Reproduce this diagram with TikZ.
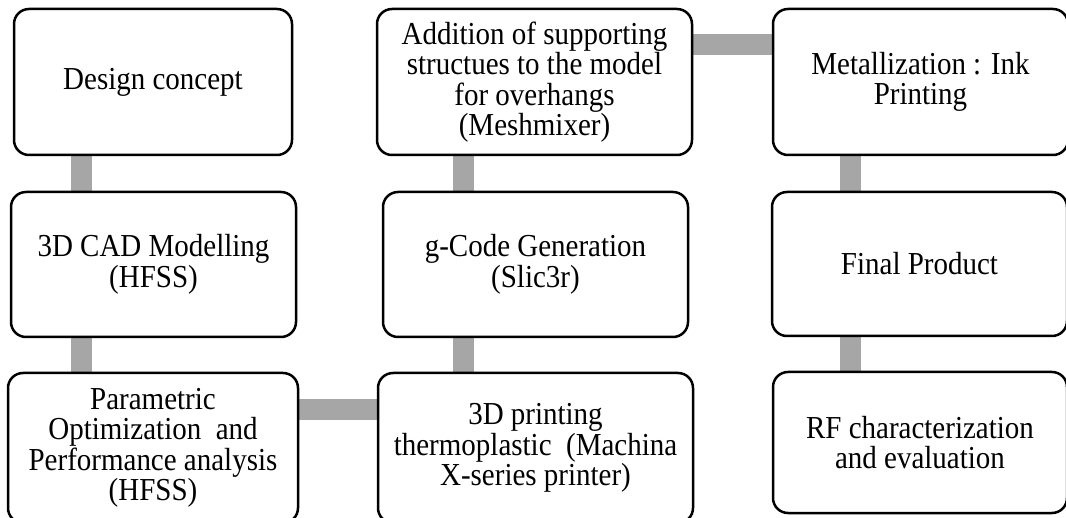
\documentclass[tikz,border=0pt]{standalone}
\usepackage{fontspec}
\setmainfont{Liberation Serif}[FakeStretch=0.906]
\usetikzlibrary{backgrounds}
\begin{document}
\begin{tikzpicture}[x=1pt,y=-1pt,
  stepbox/.style={draw=black, line width=2.5pt, rounded corners=15pt, fill=white,
    align=center, inner sep=0pt, font=\fontsize{32}{30.5}\selectfont},
  link/.style={draw=linkgray, line width=21pt}]
\definecolor{linkgray}{HTML}{A6A6A6}
\useasboundingbox (0,0) rectangle (1066,518);
\clip (0,0) rectangle (1066,518);

% connector tracks
\coordinate (c1) at (81,0);
\coordinate (c2) at (463,0);
\coordinate (c3) at (850,0);
\coordinate (rowtop) at (0,45);
\coordinate (rowbot) at (0,409.5);

% left column
\node[stepbox, minimum width=278pt, minimum height=146pt] (design) at (153,82) {Design concept};
\node[stepbox, minimum width=285pt, minimum height=145pt] (cad) at (153.5,264.5) {3D CAD Modelling\\(HFSS)};
\node[stepbox, minimum width=290pt, minimum height=150pt] (param) at (153,448) {Parametric\\Optimization\ \ and\\Performance analysis\\(HFSS)};

% middle column
\node[stepbox, minimum width=315pt, minimum height=150pt] (print) at (535.5,448) {3D printing\\thermoplastic\ \ (Machina\\X-series printer)};
\node[stepbox, minimum width=305pt, minimum height=145pt] (gcode) at (535.5,264.5) {g-Code Generation\\(Slic3r)};
\node[stepbox, minimum width=315pt, minimum height=146pt] (support) at (534.5,82) {Addition of supporting\\structues to the model\\for overhangs\\(Meshmixer)};

% right column
\node[stepbox, minimum width=295pt, minimum height=146pt] (metal) at (920.5,82) {Metallization : Ink\\Printing};
\node[stepbox, minimum width=295pt, minimum height=144pt] (final) at (919.5,264) {Final Product};
\node[stepbox, minimum width=294pt, minimum height=141pt] (rf) at (920,442.5) {RF characterization\\and evaluation};

% grey connectors behind the boxes
\begin{scope}[on background layer]
\fill[white] (0,0) rectangle (1066,518);
\path[link] (design.south -| c1) -- (cad.north -| c1);
\path[link] (cad.south -| c1) -- (param.north -| c1);
\path[link] (param.east |- rowbot) -- (print.west |- rowbot);
\path[link] (print.north -| c2) -- (gcode.south -| c2);
\path[link] (gcode.north -| c2) -- (support.south -| c2);
\path[link] (support.east |- rowtop) -- (metal.west |- rowtop);
\path[link] (metal.south -| c3) -- (final.north -| c3);
\path[link] (final.south -| c3) -- (rf.north -| c3);
\end{scope}
\end{tikzpicture}
\end{document}
